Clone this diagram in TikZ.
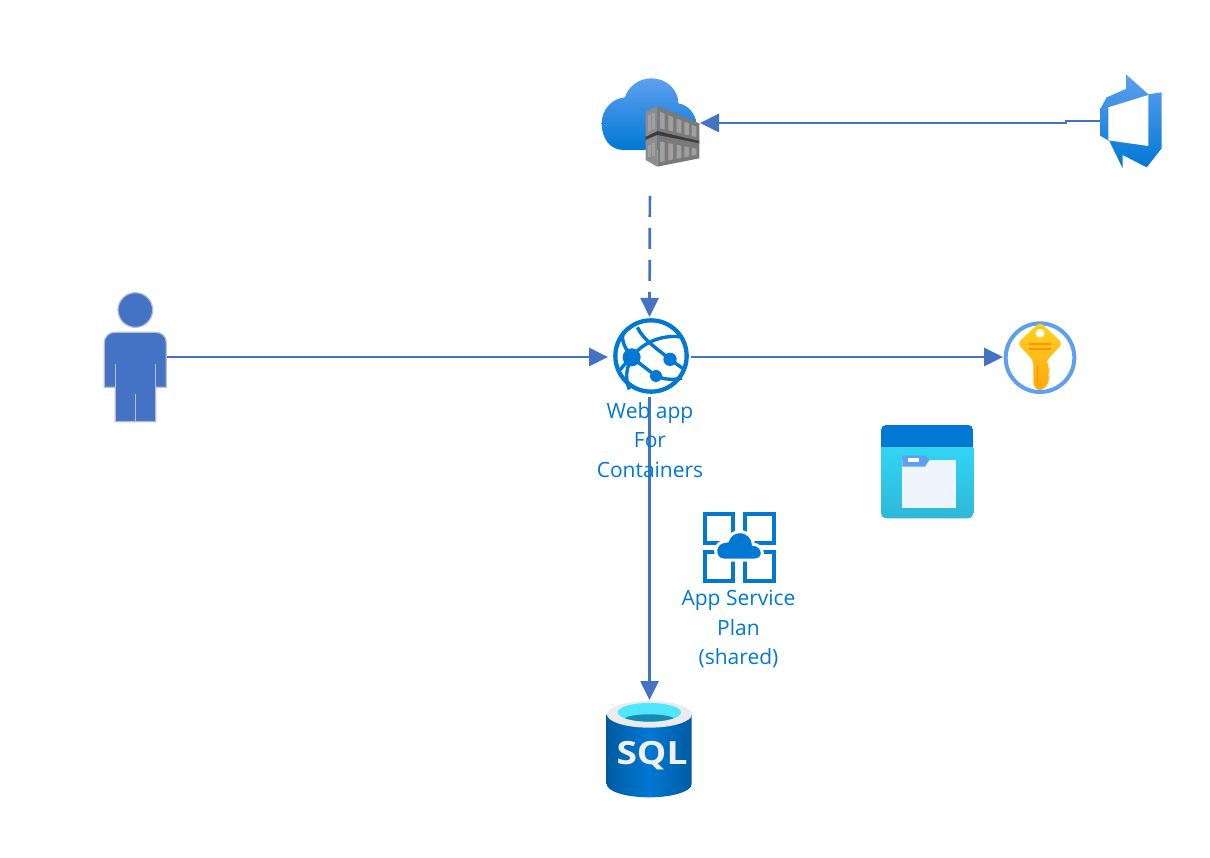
\documentclass[tikz,border=0pt]{standalone}
\usepackage{fontspec}
\usepackage{graphicx}
\setmainfont{Open Sans}
\usetikzlibrary{arrows.meta}
\definecolor{azure}{HTML}{0078D4}
\definecolor{azurelt}{HTML}{5EA0EF}
\definecolor{flow}{HTML}{4472C4}
\definecolor{edge}{HTML}{B8BEC8}
\definecolor{cyanA}{HTML}{32D4F5}
\definecolor{cyanB}{HTML}{2FB8D8}
\definecolor{pane}{HTML}{EFF5FC}
\definecolor{goldA}{HTML}{FFD21F}
\definecolor{goldB}{HTML}{FFA70F}
\definecolor{goldC}{HTML}{FF9300}
\definecolor{sqlcyan}{HTML}{50E6FF}
\definecolor{sqlteal}{HTML}{198AB3}
\definecolor{sqldark}{HTML}{005BA1}
\definecolor{boxfront}{HTML}{7A7A7A}
\definecolor{boxside}{HTML}{8C8C8C}
\definecolor{boxlight}{HTML}{A0A0A0}
\definecolor{boxgap}{HTML}{3C3C3C}
\tikzset{
  iconbox/.style={inner sep=0pt,outer sep=0pt,draw=none},
  flowline/.style={draw=flow,line width=2.7pt,-{Triangle[length=19pt,width=18pt]}},
  caption/.style={text=azure,align=center,inner sep=0pt,font=\fontsize{21}{29.5}\selectfont},
  zoomed/.style={shift={#1},scale=1/3},
  cloudgrad/.style={top color=azurelt,bottom color=azure},
}
\begin{document}
\begin{tikzpicture}[x=1pt,y=-1pt]
\useasboundingbox (0,0) rectangle (1210,858);
% anchors of the icons
\node[iconbox,minimum width=62pt,minimum height=128pt] (user) at (135,357) {};
\node[iconbox,minimum width=100pt,minimum height=90pt] (acr) at (650,123) {};
\node[iconbox,minimum width=62pt,minimum height=92pt] (devops) at (1131,121) {};
\node[iconbox,minimum width=83pt,minimum height=80pt] (web) at (649.5,357) {};
\node[iconbox,minimum width=74pt,minimum height=72pt] (key) at (1040,357) {};
\node[iconbox,minimum width=92pt,minimum height=100pt] (sql) at (650,750) {};
\node[iconbox,minimum width=92pt,minimum height=94pt] (files) at (927,472) {};
\node[iconbox,minimum width=74pt,minimum height=72pt] (plan) at (739,548) {};
\coordinate (jogA) at (1066,121);
\coordinate (jogB) at (1066,123);
% connectors
\draw[flowline] (user.east |- web.west) -- (web.west);
\draw[flowline] (web.east) -- (key.west);
\draw[flowline] (web.south) -- (web.south |- sql.north);
\draw[flowline,dash pattern=on 21pt off 11pt,shorten <=28pt] (acr.south) -- (web.north);
\draw[flowline] (devops.west) -- (jogA) -- (jogB) -- (acr.east |- jogB);
% person
\begin{scope}[zoomed={(90,280)},draw=edge,fill=flow,line width=1.2pt]
  \filldraw (136,90) circle (52);
  \filldraw (43,322) -- (43,187) .. controls (43,170) and (57,157) .. (75,157) -- (197,157)
    .. controls (215,157) and (229,170) .. (229,187)
    -- (229,322) -- (197,322) -- (197,425) -- (76,425) -- (76,322) -- cycle;
  \draw (76,252) -- (76,322) (197,252) -- (197,322) (136,342) -- (136,425);
\end{scope}
% container registry
\begin{scope}[zoomed={(580,60)}]
  \shade[cloudgrad] (130,270) .. controls (90,270) and (65,235) .. (65,190)
    .. controls (65,150) and (95,115) .. (135,112)
    .. controls (145,80) and (175,55) .. (215,55)
    .. controls (260,55) and (295,90) .. (295,130)
    .. controls (325,135) and (345,160) .. (350,190)
    -- (330,270) -- cycle;
  \fill[boxgap] (197,228) -- (232,211) -- (358,241) -- (358,252) -- (232,227) -- (197,242) -- cycle;
  \fill[boxside] (197,155) -- (232,138) -- (232,213) -- (197,230) -- cycle;
  \fill[boxfront] (232,138) -- (358,190) -- (358,243) -- (232,213) -- cycle;
  \fill[boxside] (197,240) -- (232,225) -- (232,320) -- (197,300) -- cycle;
  \fill[boxfront] (232,225) -- (358,250) -- (358,295) -- (232,320) -- cycle;
  \foreach \x in {240,265,290,313,335}{
    \fill[boxlight] (\x,{138+(\x-232)*.41+14}) -- ({\x+14},{138+(\x-232+14)*.41+14})
      -- ({\x+14},{213+(\x-232+14)*.24-10}) -- (\x,{213+(\x-232)*.24-10}) -- cycle;
    \fill[boxlight] (\x,{225+(\x-232)*.2+18}) -- ({\x+14},{225+(\x-232+14)*.2+18})
      -- ({\x+14},{320-(\x-232+14)*.2-12}) -- (\x,{320-(\x-232)*.2-12}) -- cycle;
  }
  \foreach \x in {203,217}{
    \fill[boxlight] (\x,{152-(\x-203)*.45+12}) rectangle ({\x+9},{222-(\x-203)*.45-10});
    \fill[boxlight] (\x,{240-(\x-203)*.45+14}) rectangle ({\x+9},{298-(\x-203)*.1-8});
  }
\end{scope}
% devops
\begin{scope}[zoomed={(1050,60)}]
  \shade[cloudgrad] (228,43) -- (295,103) -- (335,97) -- (335,265) -- (290,322) -- (218,285)
    -- (218,325) -- (178,243) -- (152,228) -- (152,145) -- (170,112) -- (228,87) -- cycle;
  \fill[white] (175,142) -- (295,105) -- (295,258) -- (175,241) -- cycle;
\end{scope}
% web app
\begin{scope}[zoomed={(580,300)},draw=azure,fill=azure]
  \draw[line width=4.3pt] (213,168) circle (107);
  \begin{scope}[line width=3.4pt]
    \draw (172,82) .. controls (190,120) and (230,145) .. (270,178) -- (312,208);
    \draw (155,172) .. controls (185,130) and (240,105) .. (298,110);
    \draw (155,172) -- (228,228) .. controls (255,240) and (285,240) .. (306,234);
    \draw (128,104) .. controls (125,130) and (140,150) .. (155,172)
      .. controls (135,190) and (125,205) .. (115,215);
    \draw (148,190) .. controls (135,220) and (140,250) .. (148,268);
  \end{scope}
  \fill (155,172) circle (27);
  \fill (270,178) circle (20);
  \fill (228,228) circle (18);
\end{scope}
\node[caption] (webl) at (650,440) {Web app\\For\\Containers};
% key vault
\begin{scope}[zoomed={(990,310)}]
  \draw[azurelt,line width=4pt] (150,143) circle (103);
  \shade[top color=goldA,bottom color=goldB,rounded corners=4pt]
    (150,36) -- (218,100) -- (170,152) -- (170,160) -- (180,172) -- (172,184) -- (180,196)
    -- (172,208) -- (178,220) -- (150,245) -- (130,228) -- (130,152) -- (82,100) -- cycle;
  \fill[white] (150,70) circle (13);
  \fill[goldC] (118,100) rectangle (184,106);
  \fill[goldC] (118,114) rectangle (184,120);
  \fill[goldC] (140,165) rectangle (145,228);
\end{scope}
% files
\begin{scope}[zoomed={(870,415)}]
  \begin{scope}
    \clip[rounded corners=5pt] (33,30) rectangle (310,310);
    \shade[top color=cyanA,bottom color=cyanB] (33,97) rectangle (310,310);
    \fill[azure] (33,30) rectangle (310,97);
  \end{scope}
  \fill[pane] (97,135) rectangle (257,280);
  \fill[azurelt] (97,122) -- (165,122) -- (178,135) -- (165,155) -- (97,155) -- cycle;
  \fill[white] (115,130) rectangle (148,140);
\end{scope}
% app service plan
\begin{scope}[zoomed={(690,505)}]
  \draw[azure,line width=4pt] (44,28) rectangle (130,115);
  \draw[azure,line width=4pt] (166,28) rectangle (252,115);
  \draw[azure,line width=4pt] (44,142) rectangle (130,229);
  \draw[azure,line width=4pt] (166,142) rectangle (252,229);
  \path[fill=azure,draw=white,line width=3pt]
    (100,165) .. controls (85,165) and (77,152) .. (77,137)
    .. controls (77,120) and (92,108) .. (112,108)
    .. controls (118,90) and (132,80) .. (150,80)
    .. controls (172,80) and (190,97) .. (190,118)
    .. controls (205,118) and (217,130) .. (217,145)
    .. controls (217,157) and (207,165) .. (195,165) -- cycle;
\end{scope}
\node[caption] (planl) at (738.5,629) {App Service\\Plan\\(shared)};
% sql
\begin{scope}[zoomed={(590,680)}]
  \shade[left color=sqldark,right color=sqldark,middle color=azure]
    (50,103) -- (50,312) arc[start angle=180,end angle=0,x radius=127.5,y radius=40]
    -- (305,103) -- cycle;
  \fill[black!8] (178,103) ellipse (127.5 and 40);
  \fill[sqlcyan] (178,97) ellipse (95 and 28);
  \begin{scope}
    \clip (178,97) ellipse (95 and 28);
    \fill[sqlteal] (178,118) ellipse (75 and 15);
  \end{scope}
\end{scope}
\node[text=black!6,font=\fontsize{32}{32}\selectfont\bfseries,inner sep=0pt] (sqlt) at (652,756) {\scalebox{1.16}[1]{SQL}};
\end{tikzpicture}
\end{document}
